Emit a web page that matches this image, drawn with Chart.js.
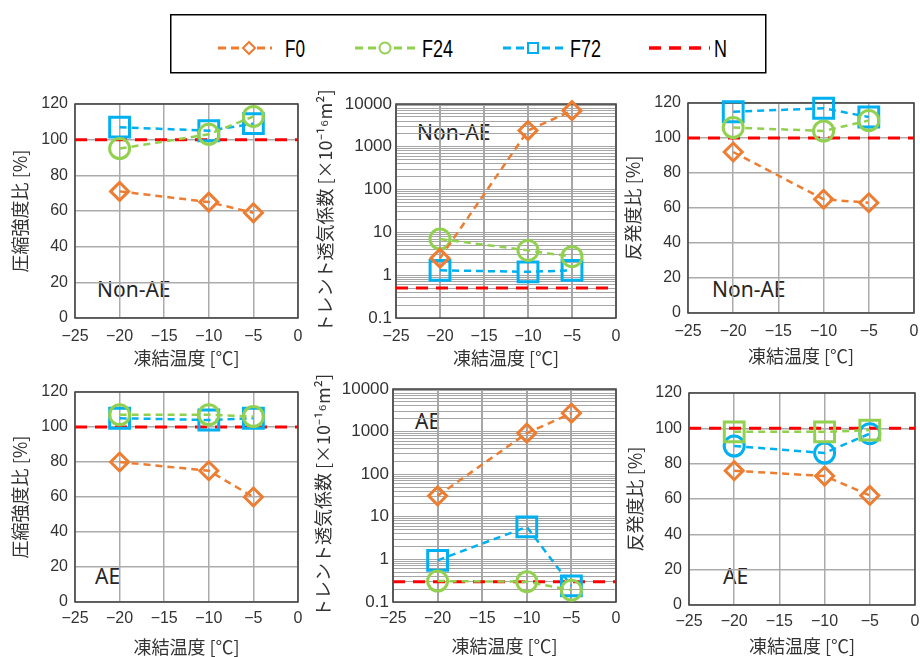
<!DOCTYPE html>
<html><head><meta charset="utf-8">
<script src="https://cdn.jsdelivr.net/npm/chart.js@4.4.0/dist/chart.umd.min.js"></script>
<style>
html,body{margin:0;padding:0;}
body{width:920px;height:657px;overflow:hidden;background:#fff;position:relative;}
canvas{position:absolute;}
.lbl{position:absolute;font-family:"Noto Sans","Noto Sans CJK JP",sans-serif;font-size:21px;line-height:20px;color:#262626;white-space:nowrap;}
svg{position:absolute;left:0;top:0;}
</style></head>
<body>
<svg width="920" height="80" id="leg">
  <rect x="170.75" y="14.75" width="595" height="58" fill="#fff" stroke="#000" stroke-width="1.5"/>
  <line x1="218" y1="48" x2="272" y2="48" stroke="#ED7D31" stroke-width="3" stroke-dasharray="8,5"/>
  <path d="M249 42 L255 48 L249 54 L243 48 Z" fill="#fff" stroke="#ED7D31" stroke-width="2"/>
  <text x="285" y="57" font-family="Liberation Sans, sans-serif" font-size="23" fill="#000" textLength="20" lengthAdjust="spacingAndGlyphs">F0</text>
  <line x1="355" y1="48" x2="416" y2="48" stroke="#92D050" stroke-width="3" stroke-dasharray="8,5"/>
  <circle cx="385" cy="48" r="5.5" fill="#fff" stroke="#92D050" stroke-width="2"/>
  <text x="422" y="57" font-family="Liberation Sans, sans-serif" font-size="23" fill="#000" textLength="31" lengthAdjust="spacingAndGlyphs">F24</text>
  <line x1="503" y1="48" x2="564" y2="48" stroke="#00B0F0" stroke-width="3" stroke-dasharray="8,5"/>
  <rect x="528" y="43" width="10" height="10" fill="#fff" stroke="#00B0F0" stroke-width="2"/>
  <text x="570" y="57" font-family="Liberation Sans, sans-serif" font-size="23" fill="#000" textLength="31" lengthAdjust="spacingAndGlyphs">F72</text>
  <line x1="649" y1="48" x2="710" y2="48" stroke="#FF0000" stroke-width="3.5" stroke-dasharray="12,8"/>
  <text x="714" y="57" font-family="Liberation Sans, sans-serif" font-size="23" fill="#000" textLength="13" lengthAdjust="spacingAndGlyphs">N</text>
</svg>
<div class="lbl" style="left:97px;top:279px;">Non-AE</div>
<div class="lbl" style="left:417px;top:122px;">Non-AE</div>
<div class="lbl" style="left:712px;top:279px;">Non-AE</div>
<div class="lbl" style="left:95px;top:566px;">AE</div>
<div class="lbl" style="left:415px;top:411px;">AE</div>
<div class="lbl" style="left:723px;top:566px;">AE</div>
<script>
// ---- data ----
const temps = [-20, -10, -5];
const nRange = [-25, 0];
const xTickValues = [-25, -20, -15, -10, -5, 0];
const linTickValues = [0, 20, 40, 60, 80, 100, 120];
const logMajorTicks = [0.1, 1, 10, 100, 1000, 10000];

const compNonAE_F0 = [71, 65, 59];
const compNonAE_F24 = [95, 103, 113];
const compNonAE_F72 = [107, 105, 109];
const compNonAE_N = 100;

const permNonAE_F0 = [2.5, 2400, 7000];
const permNonAE_F24 = [7, 3.8, 2.7];
const permNonAE_F72 = [1.3, 1.2, 1.3];
const permNonAE_N = 0.5;

const rebNonAE_F0 = [92, 65, 63];
const rebNonAE_F24 = [106, 104, 110];
const rebNonAE_F72 = [115, 117, 112];
const rebNonAE_N = 100;

const compAE_F0 = [80, 75, 60];
const compAE_F24 = [107, 107, 106];
const compAE_F72 = [105, 104, 105];
const compAE_N = 100;

const permAE_F0 = [31, 920, 2700];
const permAE_F24 = [0.31, 0.3, 0.19];
const permAE_F72 = [0.95, 5.8, 0.24];
const permAE_N = 0.3;

const rebAE_F0 = [76, 73, 62];
const rebAE_F24 = [98, 98, 99];
const rebAE_F72 = [90, 86, 97];
const rebAE_N = 100;

// ---- styles ----
const C = {F0:'#ED7D31', F24:'#92D050', F72:'#00B0F0', N:'#FF0000'};
const marker = {rectRot:9, circle:10, rect:14};
const tickColor = '#333';
const titleFont = {family:'"Noto Sans CJK JP", sans-serif', size:18};
const tickFont = {family:'"Liberation Sans",sans-serif', size:16};
const logTickFont = {family:'"Liberation Sans",sans-serif', size:17};

function pts(ys){ return temps.map((x,i)=>({x:x, y:ys[i]})); }
function series(name, ys, style){
  return {label:name, data:pts(ys), borderColor:C[name], backgroundColor:'rgba(0,0,0,0)',
    borderWidth:2.5, borderDash:[7,5], pointStyle:style, pointRadius:marker[style],
    pointBorderWidth:3, pointBorderColor:C[name], pointBackgroundColor:'rgba(0,0,0,0)',
    clip:false, tension:0};
}
function nLine(v){
  return {label:'N', data:nRange.map(x=>({x:x,y:v})), borderColor:C.N, borderWidth:3,
    borderDash:[12,8], pointRadius:0, clip:false};
}

const frame = {id:'frame', beforeDatasetsDraw(c){
  const a=c.chartArea, x=c.ctx; x.save(); x.strokeStyle='#404040'; x.lineWidth=1.5;
  x.strokeRect(a.left,a.top,a.right-a.left,a.bottom-a.top); x.restore(); }};

const logTickValues = [];
for (let e=-1; e<=3; e++) for (let k=1; k<=9; k++) logTickValues.push(Number((k*Math.pow(10,e)).toPrecision(3)));
logTickValues.push(10000);

function fmtX(v){ return v<0 ? '\u2212'+Math.abs(v) : String(v); }

function panel(g, yTitle, isLog, datasets){
  const cv = document.createElement('canvas');
  cv.width=g.W; cv.height=g.H;
  cv.style.left=g.L+'px'; cv.style.top=g.T+'px'; cv.style.width=g.W+'px'; cv.style.height=g.H+'px';
  document.body.appendChild(cv);
  const yScale = isLog ? {
    type:'logarithmic', min:0.1, max:10000,
    afterBuildTicks: s => { s.ticks = logTickValues.map(v=>({value:v})); },
    ticks:{autoSkip:false, padding:4, color:tickColor, font:logTickFont,
      callback: v => logMajorTicks.includes(v) ? String(v) : ''},
    grid:{color:'#a6a6a6', lineWidth:1, drawTicks:false}
  } : {
    type:'linear', min:0, max:120,
    afterBuildTicks: s => { s.ticks = linTickValues.map(v=>({value:v})); },
    ticks:{autoSkip:false, padding:7, color:tickColor, font:tickFont},
    grid:{color:'#ababab', lineWidth:1.5, drawTicks:false}
  };
  Object.assign(yScale, {
    border:{display:false},
    title:{display:true, text:yTitle, color:tickColor, font:titleFont, padding:{top:g.tp, bottom:0}},
    afterFit: s => { s.width = g.CL-g.L; s.paddingTop=0; s.paddingBottom=0; }
  });
  new Chart(cv, {
    type:'line',
    data:{datasets:datasets},
    options:{
      responsive:false, animation:false, devicePixelRatio:1,
      layout:{autoPadding:false, padding:{left:0, top:g.CT-g.T, right:g.L+g.W-g.CR, bottom:0}},
      plugins:{legend:{display:false}, tooltip:{enabled:false}},
      scales:{
        x:{type:'linear', min:-25, max:0,
          afterBuildTicks: s => { s.ticks = xTickValues.map(v=>({value:v})); },
          ticks:{autoSkip:false, maxRotation:0, padding:g.xp, color:tickColor, font:tickFont, callback:fmtX},
          grid:{color: isLog ? '#a6a6a6' : '#ababab', lineWidth: isLog ? 2 : 1.5, drawTicks:false},
          border:{display:false},
          title:{display:true, text:'凍結温度 [℃]', color:tickColor, font:titleFont, padding:{top:0, bottom:2}},
          afterFit: s => { s.height = g.T+g.H-g.CB; s.paddingLeft=0; s.paddingRight=0; }
        },
        y:yScale
      }
    },
    plugins:[frame]
  });
}

const yComp = '圧縮強度比 [%]';
const yPerm = 'トレント透気係数 [×10⁻¹⁶m²]';
const yReb = '反発度比 [%]';

panel({L:0,T:95,W:305,H:276,CL:75,CT:104,CR:298,CB:318,tp:9,xp:9}, yComp, false,
  [series('F0',compNonAE_F0,'rectRot'), series('F24',compNonAE_F24,'circle'), series('F72',compNonAE_F72,'rect'), nLine(compNonAE_N)]);
panel({L:310,T:80,W:314,H:291,CL:396,CT:104,CR:616,CB:318,tp:4,xp:9}, yPerm, true,
  [series('F0',permNonAE_F0,'rectRot'), series('F24',permNonAE_F24,'circle'), series('F72',permNonAE_F72,'rect'), nLine(permNonAE_N)]);
panel({L:620,T:95,W:300,H:274,CL:688,CT:103,CR:914,CB:313,tp:2,xp:9}, yReb, false,
  [series('F0',rebNonAE_F0,'rectRot'), series('F24',rebNonAE_F24,'circle'), series('F72',rebNonAE_F72,'rect'), nLine(rebNonAE_N)]);
panel({L:0,T:383,W:305,H:277,CL:75,CT:392,CR:298,CB:602,tp:9,xp:7}, yComp, false,
  [series('F0',compAE_F0,'rectRot'), series('F24',compAE_F24,'circle'), series('F72',compAE_F72,'rect'), nLine(compAE_N)]);
panel({L:310,T:372,W:314,H:287,CL:393,CT:389,CR:616,CB:602,tp:2,xp:7}, yPerm, true,
  [series('F0',permAE_F0,'rectRot'), series('F24',permAE_F24,'circle'), series('F72',permAE_F72,'rect'), nLine(permAE_N)]);
panel({L:620,T:383,W:300,H:276,CL:689,CT:393,CR:915,CB:605,tp:4,xp:7}, yReb, false,
  [series('F0',rebAE_F0,'rectRot'), series('F24',rebAE_F24,'rect'), series('F72',rebAE_F72,'circle'), nLine(rebAE_N)]);
</script>
</body></html>
